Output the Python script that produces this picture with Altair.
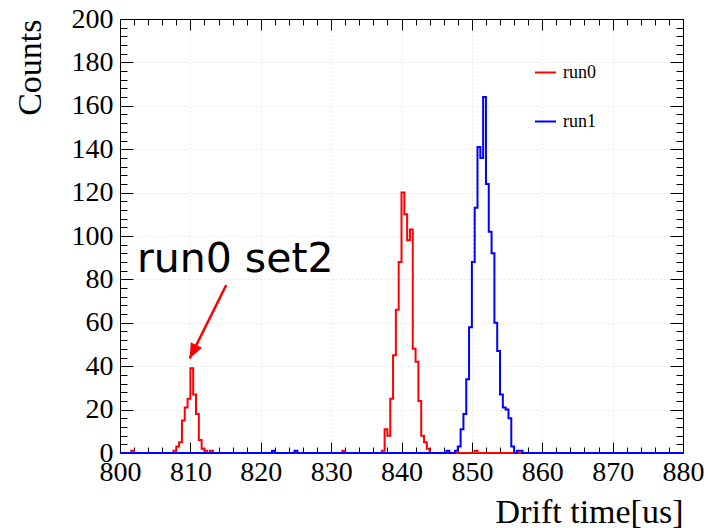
import math
import altair as alt
import numpy as np
import pandas as pd

# ---------------- data ----------------
x_min, x_max, bin_width = 800.0, 880.0, 0.4
y_min, y_max = 0, 200

series_names = ["run0", "run1"]
series_colors = ["#ff0000", "#0000ff"]

# lower edges of the non-empty bins, and their counts
run0_bin_low = [801.6, 807.6, 808.0, 808.4, 808.8, 809.2, 809.6, 810.0, 810.4, 810.8,
                811.2, 811.6, 812.0, 812.8,
                831.6,
                837.2, 837.6, 838.0, 838.4, 838.8, 839.2, 839.6, 840.0, 840.4, 840.8,
                841.2, 841.6, 842.0, 842.4, 842.8, 843.2, 843.6,
                850.4]
run0_counts = [1, 1, 3, 5, 15, 21, 25, 39, 27, 18,
               6, 2, 1, 1,
               1,
               1, 11, 8, 25, 45, 66, 88, 120, 110, 98,
               103, 48, 42, 24, 8, 5, 2,
               1]

run1_bin_low = [821.6, 824.8, 846.4, 847.6, 848.0, 848.4, 848.8, 849.2, 849.6, 850.0,
                850.4, 850.8, 851.2, 851.6, 852.0, 852.4, 852.8, 853.2, 853.6, 854.0,
                854.4, 854.8, 855.2, 855.6, 856.4, 856.8]
run1_counts = [1, 1, 1, 1, 3, 11, 18, 34, 58, 88,
               113, 141, 136, 164, 124, 102, 92, 60, 47, 27,
               21, 20, 16, 3, 1, 1]

x_major_ticks = list(range(800, 881, 10))
x_minor_ticks = [v for v in range(800, 881, 2) if v % 10 != 0]
y_major_ticks = list(range(0, 201, 20))
y_minor_ticks = [v for v in range(0, 201, 4) if v % 20 != 0]

annot_text = "run0 set2"
annot_x, annot_y = 802.4, 83.4
arrow_x0, arrow_y0 = 815.1, 77.4   # tail
arrow_x1, arrow_y1 = 809.9, 43.6   # tip

x_title = "Drift time[us]"
y_title = "Counts"

# ---------------- build table ----------------
def full_hist(lows, counts):
    n = int(round((x_max - x_min) / bin_width))
    c = np.zeros(n)
    for lo, v in zip(lows, counts):
        c[int(round((lo - x_min) / bin_width))] = v
    edges = x_min + bin_width * np.arange(n + 1)
    vals = np.append(c, c[-1])
    return edges, vals

rows = []
for name, lows, cnts in [("run0", run0_bin_low, run0_counts), ("run1", run1_bin_low, run1_counts)]:
    e, v = full_hist(lows, cnts)
    for xi, yi in zip(e, v):
        rows.append({"t": round(float(xi), 2), "counts": float(yi), "run": name})
df = pd.DataFrame(rows)

# ---------------- layout ----------------
W, H = 563, 434
PAD = {"left": 120, "top": 19, "right": 25, "bottom": 75}
SERIF = "Liberation Serif"

xscale = alt.Scale(domain=[x_min, x_max], nice=False, zero=False)
yscale = alt.Scale(domain=[y_min, y_max], nice=False, zero=False)

grid_x_op = {"condition": {"test": "datum.value <= 800 || datum.value >= 880", "value": 0}, "value": 1}
grid_y_op = {"condition": {"test": "datum.value <= 0 || datum.value >= 200", "value": 0}, "value": 1}

label_x_axis = alt.Axis(orient="bottom", values=x_major_ticks, format="d", ticks=False, tickSize=0,
                        domain=False, labelPadding=5, labelFlush=False, labelOverlap=False,
                        grid=True, gridColor="#d4d4d4", gridDash=[1, 3], gridWidth=1,
                        gridOpacity=grid_x_op,
                        title=x_title, titleAnchor="end", titleAlign="right",
                        titleBaseline="alphabetic", titleX=W, titleY=69)
label_y_axis = alt.Axis(orient="left", values=y_major_ticks, format="d", ticks=False, tickSize=0,
                        domain=False, labelPadding=7, labelFlush=False, labelOverlap=False,
                        grid=True, gridColor="#d4d4d4", gridDash=[1, 3], gridWidth=1,
                        gridOpacity=grid_y_op,
                        title=y_title, titleAnchor="end", titleAlign="right",
                        titleBaseline="alphabetic", titleAngle=270, titleX=-80, titleY=0)


def tick_axis(orient, values, length):
    return alt.Axis(orient=orient, values=values, offset=-length, tickSize=length, ticks=True,
                    labels=False, domain=False, grid=False, title=None,
                    tickColor="black", tickWidth=1)


hist = alt.Chart(df).mark_line(interpolate="step-after", strokeWidth=2).encode(
    x=alt.X("t:Q", scale=xscale, axis=label_x_axis),
    y=alt.Y("counts:Q", scale=yscale, axis=label_y_axis),
    color=alt.Color("run:N",
                    scale=alt.Scale(domain=series_names, range=series_colors),
                    legend=alt.Legend(orient="none", legendX=414, legendY=42, title=None,
                                      symbolType="stroke", symbolSize=441, symbolStrokeWidth=2,
                                      labelFont=SERIF, labelFontSize=18, labelColor="black",
                                      labelOffset=6, rowPadding=28, padding=0)),
)

tick_layers = []
for xo, xv, xl, yo, yv, yl in [
    ("bottom", x_major_ticks, 11, "left", y_major_ticks, 13),
    ("bottom", x_minor_ticks, 6, "left", y_minor_ticks, 7),
    ("top", x_major_ticks, 11, "right", y_major_ticks, 13),
    ("top", x_minor_ticks, 6, "right", y_minor_ticks, 7),
]:
    tick_layers.append(
        alt.Chart(df).mark_line(opacity=0).encode(
            x=alt.X("t:Q", scale=xscale, axis=tick_axis(xo, xv, xl)),
            y=alt.Y("counts:Q", scale=yscale, axis=tick_axis(yo, yv, yl)),
        )
    )

# annotation
ann_df = pd.DataFrame({"x": [annot_x], "y": [annot_y], "label": [annot_text]})
arrow_df = pd.DataFrame({"x0": [arrow_x0], "y0": [arrow_y0], "x1": [arrow_x1], "y1": [arrow_y1]})

dx_px = (arrow_x1 - arrow_x0) * W / (x_max - x_min)
dy_px = -(arrow_y1 - arrow_y0) * H / (y_max - y_min)
arrow_angle = math.degrees(math.atan2(dx_px, -dy_px)) % 360

ann_text = alt.Chart(ann_df).mark_text(font="DejaVu Sans", fontSize=41, align="left",
                                       baseline="alphabetic", color="black").encode(
    x=alt.X("x:Q", scale=xscale, axis=None),
    y=alt.Y("y:Q", scale=yscale, axis=None),
    text="label:N",
)
arrow_line = alt.Chart(arrow_df).mark_rule(color="#ff0000", strokeWidth=2.5).encode(
    x=alt.X("x0:Q", scale=xscale, axis=None),
    y=alt.Y("y0:Q", scale=yscale, axis=None),
    x2="x1:Q",
    y2="y1:Q",
)
arrow_head = alt.Chart(arrow_df).mark_point(shape="M0,0L0.42,1L-0.42,1Z", filled=True,
                                            color="#ff0000", opacity=1, size=900,
                                            angle=arrow_angle, strokeWidth=0).encode(
    x=alt.X("x1:Q", scale=xscale, axis=None),
    y=alt.Y("y1:Q", scale=yscale, axis=None),
)

chart = alt.layer(hist, *tick_layers, ann_text, arrow_line, arrow_head).resolve_axis(
    x="independent", y="independent"
).properties(
    width=W, height=H,
    autosize=alt.AutoSizeParams(type="none"),
    padding=PAD,
    background="white",
).configure_view(
    stroke="black", strokeWidth=1,
).configure_axis(
    labelFont=SERIF, labelFontSize=28, labelColor="black",
    titleFont=SERIF, titleFontSize=34, titleFontWeight="normal", titleColor="black",
)

chart.save("out.html", embed_options={"renderer": "svg", "actions": False})
